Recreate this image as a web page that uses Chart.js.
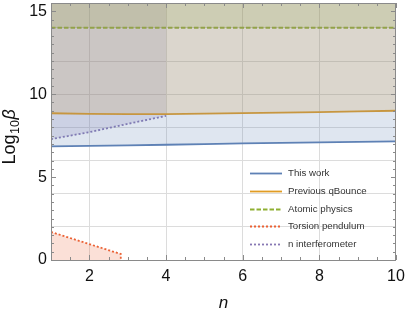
<!DOCTYPE html>
<html>
<head>
<meta charset="utf-8">
<script src="https://cdn.jsdelivr.net/npm/chart.js@4"></script>
<style>
    html, body { margin: 0; padding: 0; background: #fff; }
    #wrap { width: 407px; height: 313px; }
</style>
</head>
<body>
<div id="wrap"><canvas id="chart" width="407" height="313"></canvas></div>
<script>
// values
const nValues = [1, 2, 3, 4, 5, 6, 7, 8, 9, 10];
const thisWork = [6.85, 6.88, 6.91, 6.95, 6.99, 7.03, 7.06, 7.09, 7.12, 7.15];
const previousQBounce = [8.85, 8.81, 8.80, 8.80, 8.83, 8.86, 8.89, 8.92, 8.96, 9.00];
const atomicN = [1, 10];
const atomicPhysics = [14, 14];
const torsionN = [1, 2.82, 2.82];
const torsionPendulum = [1.69, 0.36, 0];
const interferometerN = [1, 2, 3, 4];
const nInterferometer = [7.29, 7.71, 8.21, 8.69];

const xTickValues = [2, 4, 6, 8, 10];
const yTickValues = [0, 1, 2, 3, 4, 5, 6, 7, 8, 9, 10, 11, 12, 13, 14, 15];

const FONT = "'Liberation Sans', Arial, sans-serif";

function points(xs, ys) {
    return xs.map((x, i) => ({ x: x, y: ys[i] }));
}

function fade(hex, a) {
    const r = parseInt(hex.slice(1, 3), 16);
    const g = parseInt(hex.slice(3, 5), 16);
    const b = parseInt(hex.slice(5, 7), 16);
    return `rgba(${r}, ${g}, ${b}, ${a})`;
}

const BLUE = "#5E81B5";
const ORANGE = "#E19C24";
const GREEN = "#8FB032";
const RED = "#EB6235";
const PURPLE = "#8778B3";

// frame + inner ticks, Mathematica style
const framePlugin = {
    id: "frame",
    afterDatasetsDraw(chart) {
        const { ctx, chartArea: a, scales } = chart;
        const x = scales.x, y = scales.y;
        ctx.save();
        ctx.strokeStyle = "#8a8a8a";
        ctx.lineWidth = 1;
        ctx.beginPath();
        for (let v = 1; v <= 10; v += 0.5) {
            const px = Math.round(x.getPixelForValue(v)) + 0.5;
            const len = v % 2 === 0 ? 5 : 3;
            ctx.moveTo(px, a.bottom); ctx.lineTo(px, a.bottom - len);
            ctx.moveTo(px, a.top); ctx.lineTo(px, a.top + len);
        }
        for (let v = 0; v <= 15.5; v += 0.5) {
            const py = Math.round(y.getPixelForValue(v)) + 0.5;
            const len = v % 5 === 0 ? 5 : 3;
            ctx.moveTo(a.left, py); ctx.lineTo(a.left + len, py);
            ctx.moveTo(a.right, py); ctx.lineTo(a.right - len, py);
        }
        ctx.stroke();
        ctx.strokeRect(Math.round(a.left) + 0.5, Math.round(a.top) + 0.5,
            Math.round(a.right - a.left) - 1, Math.round(a.bottom - a.top));
        ctx.restore();
    }
};

// y axis title with subscript and italic beta
const yTitlePlugin = {
    id: "yTitle",
    afterDraw(chart) {
        const { ctx, chartArea: a } = chart;
        ctx.save();
        ctx.translate(15, (a.top + a.bottom) / 2 + 33);
        ctx.rotate(-Math.PI / 2);
        ctx.fillStyle = "#111";
        ctx.textBaseline = "alphabetic";
        ctx.textAlign = "left";
        let cx = 0;
        ctx.font = "18px " + FONT;
        ctx.fillText("Log", cx, 0);
        cx += ctx.measureText("Log").width + 0.5;
        ctx.font = "12.5px " + FONT;
        ctx.fillText("10", cx, 4);
        cx += ctx.measureText("10").width + 0.5;
        ctx.font = "italic 18px " + FONT;
        ctx.fillText("β", cx, 0);
        ctx.restore();
    }
};

// legend drawn inside the plot, lower right
const legendPlugin = {
    id: "insideLegend",
    afterDraw(chart) {
        const { ctx, chartArea: a } = chart;
        const x0 = a.left + 199;
        const y0 = a.top + 170;
        const step = 17.8;
        ctx.save();
        ctx.font = "9.7px " + FONT;
        ctx.textBaseline = "middle";
        ctx.textAlign = "left";
        chart.data.datasets.forEach((ds, i) => {
            const yy = Math.round(y0 + i * step) + 0.5;
            ctx.strokeStyle = ds.borderColor;
            ctx.lineWidth = ds.borderWidth;
            ctx.setLineDash(ds.borderDash || []);
            ctx.beginPath();
            ctx.moveTo(x0, yy);
            ctx.lineTo(x0 + 32, yy);
            ctx.stroke();
            ctx.setLineDash([]);
            ctx.fillStyle = "#333";
            ctx.fillText(ds.label, x0 + 38, yy);
        });
        ctx.restore();
    }
};

new Chart(document.getElementById("chart"), {
    type: "line",
    data: {
        datasets: [
            {
                label: "This work",
                data: points(nValues, thisWork),
                borderColor: BLUE,
                backgroundColor: fade(BLUE, 0.2),
                borderWidth: 1.8,
                fill: "end",
            },
            {
                label: "Previous qBounce",
                data: points(nValues, previousQBounce),
                borderColor: ORANGE,
                backgroundColor: fade(ORANGE, 0.2),
                borderWidth: 1.8,
                fill: "end",
            },
            {
                label: "Atomic physics",
                data: points(atomicN, atomicPhysics),
                borderColor: GREEN,
                backgroundColor: fade(GREEN, 0.2),
                borderWidth: 2,
                borderDash: [4.5, 2],
                fill: "end",
            },
            {
                label: "Torsion pendulum",
                data: points(torsionN, torsionPendulum),
                borderColor: RED,
                backgroundColor: fade(RED, 0.2),
                borderWidth: 1.8,
                borderDash: [2, 2],
                fill: "origin",
            },
            {
                label: "n interferometer",
                data: points(interferometerN, nInterferometer),
                borderColor: PURPLE,
                backgroundColor: fade(PURPLE, 0.2),
                borderWidth: 1.8,
                borderDash: [2, 2],
                fill: "end",
            },
        ],
    },
    options: {
        responsive: false,
        animation: false,
        devicePixelRatio: 1,
        layout: { padding: { top: 3, right: 11, left: 0, bottom: 0 } },
        elements: {
            point: { radius: 0 },
            line: { tension: 0 },
        },
        plugins: {
            legend: { display: false },
            tooltip: { enabled: false },
        },
        scales: {
            x: {
                type: "linear",
                min: 1,
                max: 10,
                afterBuildTicks: (axis) => {
                    axis.ticks = xTickValues.map((v) => ({ value: v }));
                },
                afterFit: (axis) => {
                    axis.height = 53;
                    axis.paddingLeft = 0;
                    axis.paddingRight = 0;
                },
                ticks: {
                    color: "#111",
                    font: { family: FONT, size: 16 },
                    padding: 7,
                    maxRotation: 0,
                    autoSkip: false,
                },
                grid: {
                    drawTicks: false,
                    lineWidth: 1,
                    color: (c) => (c.tick && c.tick.value < 10 ? "#dcdcdc" : "rgba(0,0,0,0)"),
                },
                border: { display: false },
                title: {
                    display: true,
                    text: "n",
                    color: "#111",
                    font: { family: FONT, size: 17, style: "italic" },
                    padding: { top: 0, bottom: 0 },
                },
            },
            y: {
                type: "linear",
                min: 0,
                max: 15.5,
                afterBuildTicks: (axis) => {
                    axis.ticks = yTickValues.map((v) => ({ value: v }));
                },
                afterFit: (axis) => {
                    axis.width = 51;
                    axis.paddingTop = 0;
                    axis.paddingBottom = 0;
                },
                ticks: {
                    color: "#111",
                    font: { family: FONT, size: 16 },
                    padding: 4,
                    autoSkip: false,
                    callback: (v) => (v % 5 === 0 ? String(v) : ""),
                },
                grid: {
                    drawTicks: false,
                    lineWidth: 1,
                    color: (c) => (c.tick && c.tick.value % 2 === 0 && c.tick.value > 0 ? "#dcdcdc" : "rgba(0,0,0,0)"),
                },
                border: { display: false },
            },
        },
    },
    plugins: [framePlugin, yTitlePlugin, legendPlugin],
});
</script>
</body>
</html>
